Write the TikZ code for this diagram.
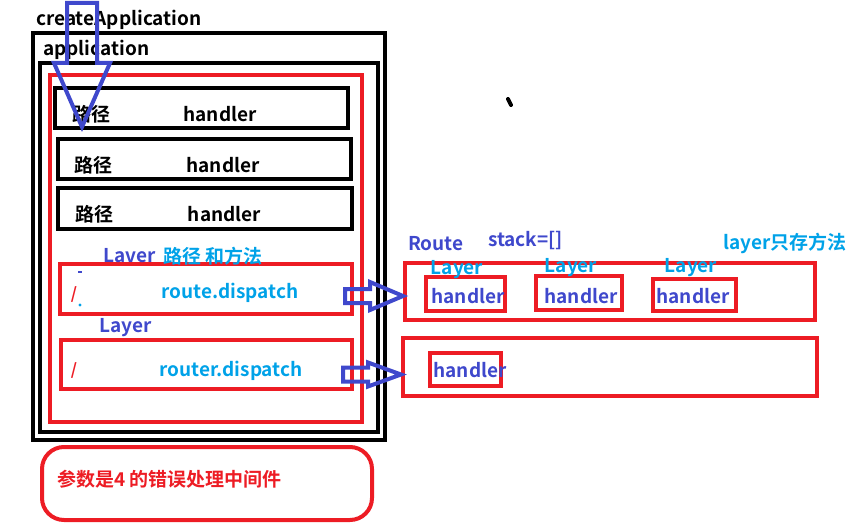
\documentclass[tikz,border=0pt]{standalone}
\usepackage{fontspec}
\setmainfont{Noto Sans CJK SC}[BoldFont={Noto Sans CJK SC Bold}]
\usepackage{tikz}
\usetikzlibrary{calc}
\definecolor{paintred}{HTML}{ED1C24}
\definecolor{paintblue}{HTML}{3F48CC}
\definecolor{paintcyan}{HTML}{00A2E8}
\def\blockarrow[#1](#2)(#3:#4){\draw[#1] let \p1=(#2), \p2=(#3) in (\x1,\y1+7) -- (\x2-33,\y1+7) -- (\x2-33,\y1+#4) -- (\x2,\y1) -- (\x2-33,\y1-#4) -- (\x2-33,\y1-7) -- (\x1,\y1-7) -- cycle;}

\begin{document}
\begin{tikzpicture}[x=1pt, y=-1pt,
		txt/.style={inner sep=0pt, font=\bfseries\fontsize{19}{19}\selectfont},
		blackline/.style={draw=black, line width=4pt},
		redline/.style={draw=paintred, line width=4pt},
		redbox/.style={redline, inner sep=0pt},
		bluearrow/.style={draw=paintblue, line width=4pt, line join=miter}]
			%%%%% START %%%%%
			\useasboundingbox (0,0) rectangle (857,527);
			
			\draw[blackline] (33,33) rectangle (385,440);
			\draw[blackline] (40,63) rectangle (378,432);
			\draw[redline] (50,75) rectangle (362,422);
			
			\node[txt, anchor=west] (create) at (36,19.5) {createApplication};
			\node[txt, anchor=west] (app) at (43,49.5) {application};
			
			\draw[blackline] (55,88) rectangle (348,128);
			\draw[blackline] (58,139) rectangle (351,179);
			\draw[blackline] (58,188) rectangle (352,229);
			\node[txt, anchor=west] (path1) at (72,114) {路径};
			\node[txt, anchor=west] (path2) at (74,165) {路径};
			\node[txt, anchor=west] (path3) at (75,214) {路径};
			\node[txt] (hd1) at (220,114) {handler};
			\node[txt] (hd2) at (223,165) {handler};
			\node[txt] (hd3) at (224.5,214) {handler};
			
			\node[redbox, minimum width=292, minimum height=50] (route) at (206,289) {};
			\node[redbox, minimum width=291, minimum height=49] (router) at (206.5,364.5) {};
			\node[txt, anchor=west, text=paintblue] (laver) at (103,256) {Laver};
			\node[txt, anchor=west, text=paintcyan] (laverinfo) at (163,256) {路径 和方法};
			\node[txt, text=paintcyan] (routedp) at (230,293) {route.dispatch};
			\node[txt, anchor=west, text=paintblue] (layer) at (99,328) {Layer};
			\node[txt, text=paintcyan] (routerdp) at (231,371) {router.dispatch};
			\node[inner sep=0pt, text=paintred, font=\bfseries\fontsize{16}{16}\selectfont] (slash1) at (74,294) {/};
			\node[inner sep=0pt, text=paintred, font=\bfseries\fontsize{16}{16}\selectfont] (slash2) at (74,370) {/};
			\draw[paintblue, line width=1.5pt] (78,272) -- (82,272);
			\fill[paintcyan] (80,305) circle (1.6);
			
			\node[redbox, minimum width=410, minimum height=57] (Route) at (610,291.5) {};
			\node[redbox, minimum width=414, minimum height=58] (Route2) at (610,367) {};
			\node[txt, anchor=west, text=paintblue] (routelbl) at (408,244) {Route};
			\node[txt, anchor=west, text=paintblue] (stack) at (488,241) {stack=[]};
			\node[txt, anchor=west, text=paintcyan] (note) at (723,243) {layer只存方法};
			
			\node[redbox, minimum width=79, minimum height=34] (h1) at (465.5,294) {};
			\node[redbox, minimum width=86, minimum height=34] (h2) at (579,293) {};
			\node[redbox, minimum width=83, minimum height=32] (h3) at (694.5,295) {};
			\node[redbox, minimum width=71, minimum height=33] (h4) at (465.5,369.5) {};
			\node[txt, text=paintblue] (h1t) at (468,296) {handler};
			\node[txt, text=paintblue] (h2t) at (581,296) {handler};
			\node[txt, text=paintblue] (h3t) at (693,296) {handler};
			\node[txt, text=paintblue] (h4t) at (470,370) {handler};
			\node[txt, text=paintcyan] (l1) at (457,270) {Layer};
			\node[txt, text=paintcyan] (l2) at (571,268) {Layer};
			\node[txt, text=paintcyan] (l3) at (691,268) {Layer};
			
			\coordinate (arrA) at ($(route.east)+(-9,7)$);
			\coordinate (arrB) at ($(router.east)+(-11,10)$);
			\blockarrow[bluearrow](arrA)(Route.west:14);
			\blockarrow[bluearrow](arrB)(Route2.west:12);
			
			\draw[bluearrow] (67,3) -- (97,3) -- (97,63) -- (110,63) -- (82,127) -- (54,63) -- (67,63) -- cycle;
			
			\draw[black, line width=4pt, line cap=round] (508,99) -- (511,105);
			
			\draw[redline, rounded corners=22] (42,447) rectangle (372,520);
			\node[txt, anchor=west, text=paintred] (errmw) at (57,479) {参数是4 的错误处理中间件};
			%%%%% END %%%%%
\end{tikzpicture}
\end{document}
